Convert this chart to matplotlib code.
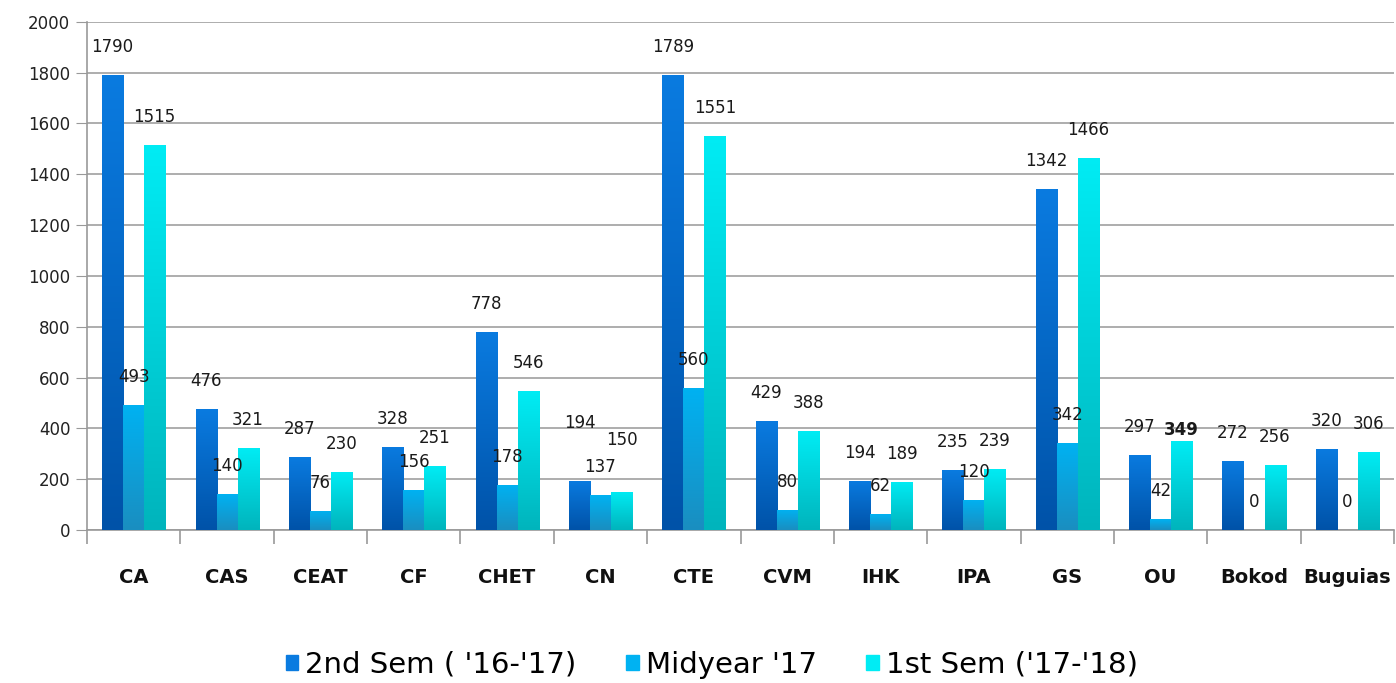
import numpy as np
import matplotlib.pyplot as plt
from matplotlib.colors import LinearSegmentedColormap

# Input Data
colleges = ['CA', 'CAS', 'CEAT', 'CF', 'CHET', 'CN', 'CTE', 'CVM', 'IHK', 'IPA',
            'GS', 'OU', 'Bokod', 'Buguias']
sem2_1617 = [1790, 476, 287, 328, 778, 194, 1789, 429, 194, 235, 1342, 297, 272, 320]
midyear_17 = [493, 140, 76, 156, 178, 137, 560, 80, 62, 120, 342, 42, 0, 0]
sem1_1718 = [1515, 321, 230, 251, 546, 150, 1551, 388, 189, 239, 1466, 349, 256, 306]
series_names = ["2nd Sem ( '16-'17)", "Midyear '17", "1st Sem ('17-'18)"]

# (top colour, bottom colour) for each series
gradients = [('#0a7be0', '#0052a8'), ('#00b2f2', '#1a8ec0'), ('#00ecf4', '#00b4bc')]

# label lift above bar top, in pixels; a few labels were nudged in the original
default_lift = 28
lift_override = {(5, 0): 58, (5, 2): 52, (11, 2): 11}

fig = plt.figure(figsize=(13.96, 6.83), dpi=100)
ax = fig.add_axes([0.0623, 0.224, 0.9363, 0.744])
ax.set_xlim(-0.5, len(colleges) - 0.5)
ax.set_ylim(0, 2000)

x = np.arange(len(colleges))
w = 0.225
grad = np.linspace(1, 0, 256).reshape(-1, 1)

for i, vals in enumerate([sem2_1617, midyear_17, sem1_1718]):
    top, bottom = gradients[i]
    cmap = LinearSegmentedColormap.from_list('g%d' % i, [bottom, top])
    bars = ax.bar(x + (i - 1) * w, vals, w, color=top, edgecolor='none', zorder=3,
                  label=series_names[i])
    for b in bars:
        bx, by = b.get_x(), b.get_y()
        bw, bh = b.get_width(), b.get_height()
        if bh <= 0:
            continue
        b.set_facecolor('none')
        im = ax.imshow(grad, cmap=cmap, aspect='auto', zorder=3,
                       extent=[bx, bx + bw, by, by + bh], vmin=0, vmax=1)
        im.set_clip_path(b)
    for j, (xi, v) in enumerate(zip(x + (i - 1) * w, vals)):
        lift = lift_override.get((j, i), default_lift) * 0.72
        bold = (j, i) == (11, 2)
        ax.annotate(str(v), (xi, v), xytext=(0, lift), textcoords='offset points',
                    ha='center', va='center', fontsize=12, color='#1a1a1a',
                    fontweight='bold' if bold else 'normal', zorder=5)

ax.set_xlim(-0.5, len(colleges) - 0.5)
ax.set_ylim(0, 2000)
ax.set_yticks(range(0, 2001, 200))
ax.tick_params(axis='y', labelsize=12, length=8, color='#999999', labelcolor='#222222', pad=4)
ax.yaxis.grid(True, color='#a0a0a0', linewidth=1.2, zorder=0)
ax.set_axisbelow(True)

ax.set_xticks(x)
ax.set_xticklabels(colleges, fontsize=14, fontweight='bold', color='#111111')
ax.tick_params(axis='x', which='major', length=0, pad=27)
ax.set_xticks(np.arange(-0.5, len(colleges)), minor=True)
ax.tick_params(axis='x', which='minor', length=10, color='#999999', width=1.2)

for s in ['top', 'right']:
    ax.spines[s].set_visible(False)
for s in ['left', 'bottom']:
    ax.spines[s].set_color('#999999')
    ax.spines[s].set_linewidth(1.2)

handles = [plt.Rectangle((0, 0), 1, 1, color=g[0]) for g in gradients]
leg = fig.legend(handles, series_names, loc='lower center', bbox_to_anchor=(0.51, -0.032),
                 ncol=3, frameon=False, handlelength=0.42, handleheight=0.42,
                 handletextpad=0.25, columnspacing=1.7,
                 prop={'family': 'DejaVu Sans', 'size': 21})

fig.savefig('out.png', dpi=100)
